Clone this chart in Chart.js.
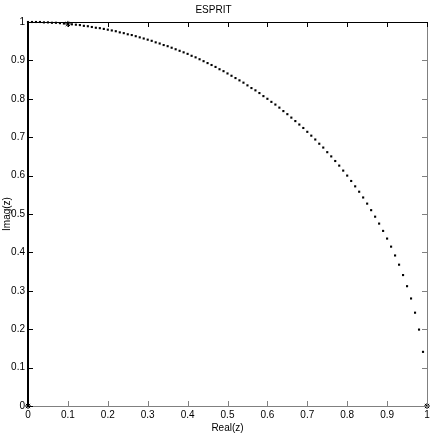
<!DOCTYPE html>
<html lang="en">
<head>
    <meta charset="UTF-8">
    <title>ESPRIT</title>
    <script src="https://cdn.jsdelivr.net/npm/chart.js@4.4.1/dist/chart.umd.min.js"></script>
    <style>
        body {
            margin: 0;
            background-color: #fff;
        }
        #wrap {
            width: 436px;
            height: 436px;
        }
    </style>
</head>
<body>
    <div id="wrap">
        <canvas id="espritChart" width="436" height="436"></canvas>
    </div>

    <script>
        // estimated eigenvalue positions
        const realPart = [
            0.00, 0.01, 0.02, 0.03, 0.04, 0.05, 0.06, 0.07, 0.08, 0.09,
            0.10, 0.11, 0.12, 0.13, 0.14, 0.15, 0.16, 0.17, 0.18, 0.19,
            0.20, 0.21, 0.22, 0.23, 0.24, 0.25, 0.26, 0.27, 0.28, 0.29,
            0.30, 0.31, 0.32, 0.33, 0.34, 0.35, 0.36, 0.37, 0.38, 0.39,
            0.40, 0.41, 0.42, 0.43, 0.44, 0.45, 0.46, 0.47, 0.48, 0.49,
            0.50, 0.51, 0.52, 0.53, 0.54, 0.55, 0.56, 0.57, 0.58, 0.59,
            0.60, 0.61, 0.62, 0.63, 0.64, 0.65, 0.66, 0.67, 0.68, 0.69,
            0.70, 0.71, 0.72, 0.73, 0.74, 0.75, 0.76, 0.77, 0.78, 0.79,
            0.80, 0.81, 0.82, 0.83, 0.84, 0.85, 0.86, 0.87, 0.88, 0.89,
            0.90, 0.91, 0.92, 0.93, 0.94, 0.95, 0.96, 0.97, 0.98, 0.99
        ];
        const imagPart = [
            1.000, 1.000, 1.000, 1.000, 0.999, 0.999, 0.998, 0.998, 0.997, 0.996,
            0.995, 0.994, 0.993, 0.992, 0.990, 0.989, 0.987, 0.985, 0.984, 0.982,
            0.980, 0.978, 0.976, 0.973, 0.971, 0.968, 0.966, 0.963, 0.960, 0.957,
            0.954, 0.951, 0.947, 0.944, 0.940, 0.937, 0.933, 0.929, 0.925, 0.921,
            0.917, 0.912, 0.908, 0.903, 0.898, 0.893, 0.888, 0.883, 0.877, 0.872,
            0.866, 0.860, 0.854, 0.848, 0.842, 0.835, 0.828, 0.822, 0.815, 0.807,
            0.800, 0.792, 0.785, 0.777, 0.768, 0.760, 0.751, 0.742, 0.733, 0.724,
            0.714, 0.704, 0.694, 0.683, 0.673, 0.661, 0.650, 0.638, 0.626, 0.613,
            0.600, 0.586, 0.572, 0.558, 0.543, 0.527, 0.510, 0.493, 0.475, 0.456,
            0.436, 0.415, 0.392, 0.368, 0.341, 0.312, 0.280, 0.243, 0.199, 0.141
        ];
        // estimated (star) markers
        const starReal = [0, 0.1, 1];
        const starImag = [0, 0.995, 0];

        const tickValues = [0, 0.1, 0.2, 0.3, 0.4, 0.5, 0.6, 0.7, 0.8, 0.9, 1];
        const tickLabels = ['0', '0.1', '0.2', '0.3', '0.4', '0.5', '0.6', '0.7', '0.8', '0.9', '1'];

        const font = { family: "'Liberation Sans', Arial, sans-serif", size: 10 };

        // box with inward ticks, like the original plot
        const boxPlugin = {
            id: 'boxTicks',
            afterDraw(chart) {
                const ctx = chart.ctx;
                const a = chart.chartArea;
                const xs = chart.scales.x;
                const ys = chart.scales.y;
                const tl = 5;
                ctx.save();
                ctx.lineWidth = 1;

                ctx.strokeStyle = '#808080';
                ctx.beginPath();
                tickValues.forEach(v => {
                    const px = Math.round(xs.getPixelForValue(v)) + 0.5;
                    ctx.moveTo(px, a.bottom);
                    ctx.lineTo(px, a.bottom - tl);
                    const py = Math.round(ys.getPixelForValue(v)) + 0.5;
                    ctx.moveTo(a.right, py);
                    ctx.lineTo(a.right - tl, py);
                });
                ctx.moveTo(a.left, a.bottom + 0.5);
                ctx.lineTo(a.right, a.bottom + 0.5);
                ctx.moveTo(a.right + 0.5, a.top);
                ctx.lineTo(a.right + 0.5, a.bottom + 1);
                ctx.stroke();

                ctx.strokeStyle = '#000';
                ctx.beginPath();
                tickValues.forEach(v => {
                    const px = Math.round(xs.getPixelForValue(v)) + 0.5;
                    ctx.moveTo(px, a.top);
                    ctx.lineTo(px, a.top + tl);
                    const py = Math.round(ys.getPixelForValue(v)) + 0.5;
                    ctx.moveTo(a.left, py);
                    ctx.lineTo(a.left + tl, py);
                });
                ctx.moveTo(a.left, a.top + 0.5);
                ctx.lineTo(a.right, a.top + 0.5);
                ctx.stroke();

                ctx.lineWidth = 2;
                ctx.beginPath();
                ctx.moveTo(a.left, a.top);
                ctx.lineTo(a.left, a.bottom + 1);
                ctx.stroke();
                ctx.restore();
            }
        };

        const ctx = document.getElementById('espritChart').getContext('2d');
        new Chart(ctx, {
            type: 'scatter',
            data: {
                datasets: [{
                    data: realPart.map((x, i) => ({ x: x, y: imagPart[i] })),
                    pointStyle: 'rect',
                    pointRadius: 1.5,
                    backgroundColor: '#000',
                    borderWidth: 0
                }, {
                    data: starReal.map((x, i) => ({ x: x, y: starImag[i] })),
                    pointStyle: 'star',
                    pointRadius: 3,
                    borderColor: '#000',
                    borderWidth: 1
                }]
            },
            options: {
                responsive: false,
                animation: false,
                clip: false,
                layout: {
                    padding: { left: 0, right: 9, top: 0, bottom: 0 }
                },
                scales: {
                    x: {
                        type: 'linear',
                        min: 0,
                        max: 1,
                        afterFit(scale) { scale.height = 30; },
                        afterBuildTicks(scale) { scale.ticks = tickValues.map(v => ({ value: v })); },
                        grid: { display: false, drawTicks: false },
                        border: { display: false },
                        ticks: {
                            color: '#000',
                            font: font,
                            padding: 3,
                            maxRotation: 0,
                            callback: (v, i) => tickLabels[i]
                        },
                        title: {
                            display: true,
                            text: 'Real(z)',
                            color: '#000',
                            font: font,
                            padding: { top: 0, bottom: 2 }
                        }
                    },
                    y: {
                        type: 'linear',
                        min: 0,
                        max: 1,
                        afterFit(scale) { scale.width = 28; },
                        afterBuildTicks(scale) { scale.ticks = tickValues.map(v => ({ value: v })); },
                        grid: { display: false, drawTicks: false },
                        border: { display: false },
                        ticks: {
                            color: '#000',
                            font: font,
                            padding: 3,
                            callback: (v, i) => tickLabels[i]
                        },
                        title: {
                            display: true,
                            text: 'Imag(z)',
                            color: '#000',
                            font: font,
                            padding: { top: 1, bottom: 0 }
                        }
                    }
                },
                plugins: {
                    legend: { display: false },
                    tooltip: { enabled: false },
                    title: {
                        display: true,
                        text: 'ESPRIT',
                        color: '#000',
                        font: { family: font.family, size: 10, weight: 'normal' },
                        padding: { top: 4, bottom: 6 }
                    }
                }
            },
            plugins: [boxPlugin]
        });
    </script>
</body>
</html>
